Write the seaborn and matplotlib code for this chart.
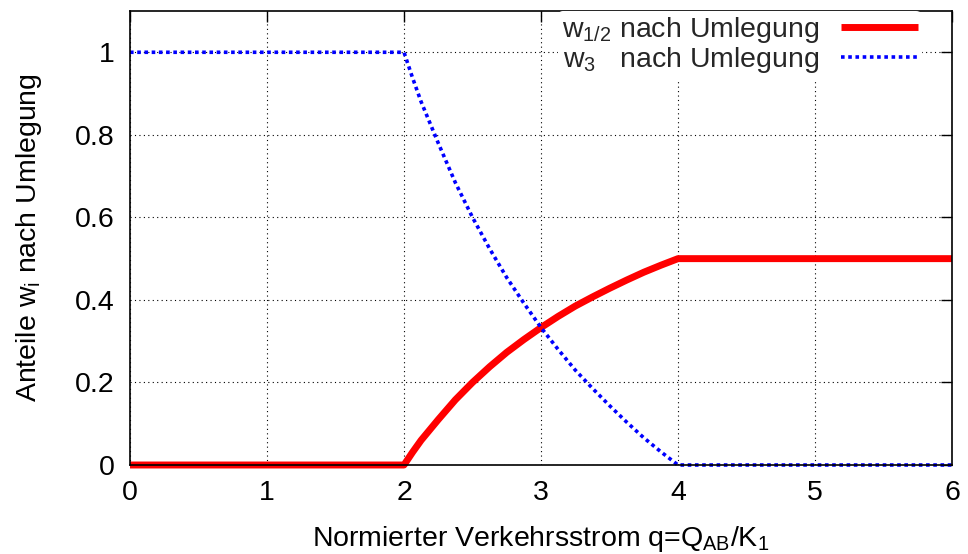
import numpy as np
import pandas as pd
import matplotlib
matplotlib.use("Agg")
import matplotlib.pyplot as plt
import seaborn as sns
from matplotlib.ticker import FormatStrFormatter

# data
q = [0.0, 2.0, 2.0625, 2.125, 2.25, 2.375, 2.5, 2.625, 2.75, 2.875, 3.0,
     3.125, 3.25, 3.375, 3.5, 3.625, 3.75, 3.875, 4.0, 6.0]
w12 = [0.0, 0.0, 0.031, 0.06, 0.11, 0.158, 0.20, 0.238, 0.273, 0.304, 0.333,
       0.36, 0.385, 0.407, 0.428, 0.448, 0.467, 0.484, 0.5, 0.5]
w3 = [1.0, 1.0, 0.938, 0.88, 0.78, 0.684, 0.60, 0.524, 0.454, 0.392, 0.333,
      0.28, 0.23, 0.186, 0.144, 0.104, 0.066, 0.032, 0.0, 0.0]
label12 = "w$_{1/2}$ nach Umlegung"
label3 = "w$_{3}$   nach Umlegung"
xticks = [0, 1, 2, 3, 4, 5, 6]
yticks = [0, 0.2, 0.4, 0.6, 0.8, 1.0]

sns.set_theme(style="white")
plt.rcParams["font.family"] = ["Liberation Sans", "DejaVu Sans"]
plt.rcParams["mathtext.fontset"] = "custom"
plt.rcParams["mathtext.rm"] = "Liberation Sans"
plt.rcParams["mathtext.it"] = "Liberation Sans:italic"
plt.rcParams["mathtext.bf"] = "Liberation Sans:bold"

df = pd.DataFrame({"q": q, "w12": w12, "w3": w3})

fig = plt.figure(figsize=(9.68, 5.54), dpi=100)
ax = fig.add_axes([130/968, 1-465/554, (952-130)/968, (465-11)/554])

fs = 20.5
sns.lineplot(data=df, x="q", y="w12", ax=ax, color="#ff0000", lw=5,
             label=label12, sort=False, clip_on=False, zorder=3)
sns.lineplot(data=df, x="q", y="w3", ax=ax, color="#0000ff", lw=2.6,
             linestyle=(0, (1, 1)), label=label3, sort=False,
             clip_on=False, zorder=4)
for ln in ax.lines:
    ln.set_solid_capstyle("butt")
    ln.set_dash_capstyle("butt")

ax.set_xlim(0, 6)
ax.set_ylim(0, 1.1)
ax.set_xticks(xticks)
ax.set_yticks(yticks)
ax.yaxis.set_major_formatter(FormatStrFormatter("%g"))
ax.tick_params(direction="in", length=8, width=1, top=True, right=True,
               labelsize=fs, colors="black", pad=11)
ax.grid(True, color="black", linestyle=(0, (1, 3)), linewidth=0.8)
for s in ax.spines.values():
    s.set_color("black")
    s.set_linewidth(1.2)
    s.set_zorder(5)

ax.set_xlabel("Normierter Verkehrsstrom q=Q$_\\mathrm{AB}$/K$_1$",
              fontsize=fs, color="black")
ax.set_ylabel("Anteile w$_\\mathrm{i}$ nach Umlegung", fontsize=fs,
              color="black")
ax.xaxis.set_label_coords(0.5, -0.129)
ax.yaxis.set_label_coords(-0.105, 0.5)

leg = ax.legend(loc="upper right", bbox_to_anchor=(1 - 30/822, 1),
                fontsize=fs, markerfirst=False,
                frameon=True, framealpha=1, facecolor="white",
                edgecolor="none", handlelength=2.7, handletextpad=0.77,
                labelspacing=0.0, borderpad=0.15, borderaxespad=0.0)
leg.get_frame().set_linewidth(0)
leg.set_zorder(6)

fig.savefig("out.png", dpi=100)
